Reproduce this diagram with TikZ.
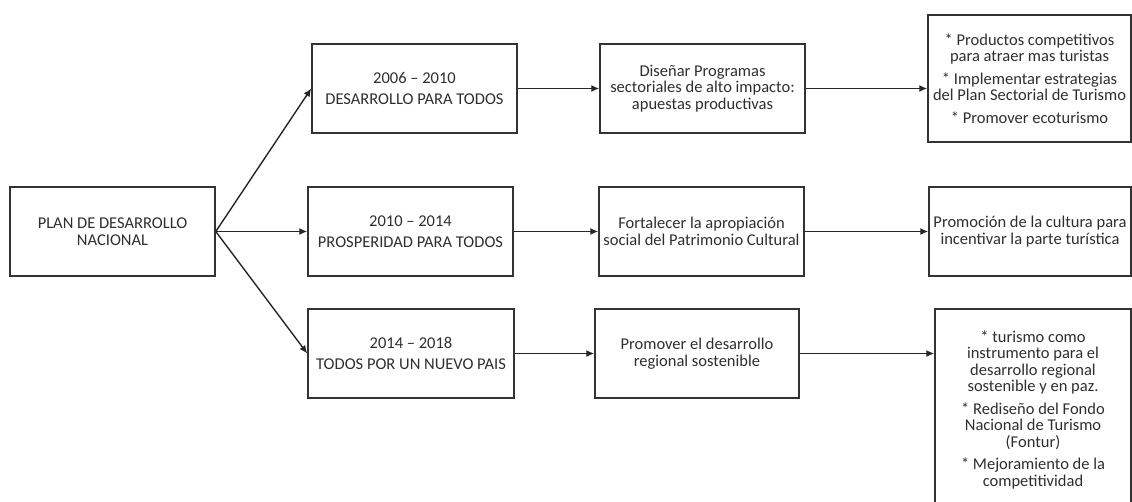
\documentclass[tikz,border=0pt]{standalone}
\usepackage{fontspec}
\setmainfont{Carlito}
\usetikzlibrary{arrows.meta}
\begin{document}
\begin{tikzpicture}[x=1pt, y=-1pt, >={Latex[length=8pt,width=7pt]},
  box/.style={draw=black!80, line width=1.5pt, inner sep=0pt, align=center, text=black!82,
    font=\fontsize{16.5}{16.5}\selectfont, minimum width=205pt, minimum height=89pt},
  arr/.style={->, draw=black!85, line width=1.4pt}]
\useasboundingbox (0,0) rectangle (1132,502);
\clip (0,0) rectangle (1132,502);
\node[box] (plan) at (112.5,231.5) {PLAN DE DESARROLLO\\NACIONAL};
\node[box] (t2006) at (414.5,88.5) {2006 -- 2010\\[5pt]DESARROLLO PARA TODOS};
\node[box] (t2010) at (410.5,231.5) {2010 -- 2014\\[5pt]PROSPERIDAD PARA TODOS};
\node[box, minimum width=206pt] (t2014) at (411,353.5) {2014 -- 2018\\[5pt]TODOS POR UN NUEVO PAIS};
\node[box] (dis) at (702.5,88.5) {Diseñar Programas\\sectoriales de alto impacto:\\apuestas productivas};
\node[box] (fort) at (701.5,231.5) {Fortalecer la apropiación\\social del Patrimonio Cultural};
\node[box, minimum width=204pt] (prom) at (697,353.5) {Promover el desarrollo\\regional sostenible};
\node[box, minimum width=203pt, minimum height=127pt] (prod) at (1029.5,78.5)
  {* Productos competitivos\\para atraer mas turistas\\[6pt]* Implementar estrategias\\del Plan Sectorial de Turismo\\[6pt]* Promover ecoturismo};
\node[box, minimum width=202pt] (promo) at (1030,231.5) {Promoción de la cultura para\\incentivar la parte turística};
\node[box, minimum width=196pt, minimum height=201pt] (tur) at (1033,409.5)
  {* turismo como\\instrumento para el\\desarrollo regional\\sostenible y en paz.\\[6pt]* Rediseño del Fondo\\Nacional de Turismo\\(Fontur)\\[6pt]* Mejoramiento de la\\competitividad};
\draw[arr] (plan.east) -- (t2006.west);
\draw[arr] (plan.east) -- (t2010.west);
\draw[arr] (plan.east) -- (t2014.west);
\draw[arr] (t2006.east) -- (dis.west);
\draw[arr] (t2010.east) -- (fort.west);
\draw[arr] (t2014.east) -- (prom.west);
\draw[arr] (dis.east) -- (dis.east -| prod.west);
\draw[arr] (fort.east) -- (promo.west);
\draw[arr] (prom.east) -- (prom.east -| tur.west);
\end{tikzpicture}
\end{document}
